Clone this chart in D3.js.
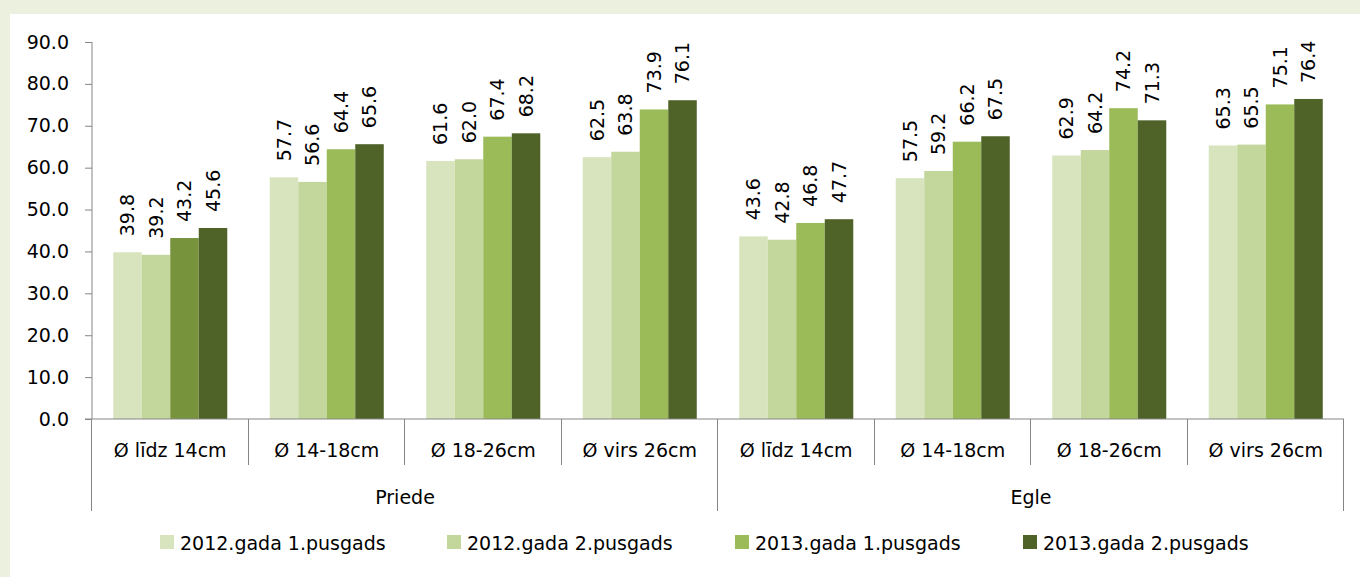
<!DOCTYPE html>
<html>
<head>
<meta charset="utf-8">
<script src="https://cdn.jsdelivr.net/npm/d3@7"></script>
<style>
  html, body { margin: 0; padding: 0; background: #EBF1DE; }
  svg { display: block; }
  text { font-family: "DejaVu Sans", sans-serif; fill: #000; }
</style>
</head>
<body>
<svg id="chart" width="1360" height="577"></svg>
<script>
// ---- data ----
const groups = ["Priede", "Egle"];
const sizes = ["Ø līdz 14cm", "Ø 14-18cm", "Ø 18-26cm", "Ø virs 26cm"];
const seriesNames = ["2012.gada 1.pusgads", "2012.gada 2.pusgads", "2013.gada 1.pusgads", "2013.gada 2.pusgads"];
const s2012h1 = [39.8, 57.7, 61.6, 62.5, 43.6, 57.5, 62.9, 65.3];
const s2012h2 = [39.2, 56.6, 62.0, 63.8, 42.8, 59.2, 64.2, 65.5];
const s2013h1 = [43.2, 64.4, 67.4, 73.9, 46.8, 66.2, 74.2, 75.1];
const s2013h2 = [45.6, 65.6, 68.2, 76.1, 47.7, 67.5, 71.3, 76.4];
const yTicks = [0, 10, 20, 30, 40, 50, 60, 70, 80, 90];

const seriesValues = [s2012h1, s2012h2, s2013h1, s2013h2];
const colors = ["#D7E4BD", "#C3D69B", "#9BBB59", "#4F6228"];
const overrideColor = "#77933C"; // first Priede point of 2013 1st half

const categories = [];
groups.forEach(g => sizes.forEach(s => categories.push(g + "|" + s)));

const svg = d3.select("#chart");
svg.append("rect").attr("x", 10).attr("y", 14).attr("width", 1350).attr("height", 563).attr("fill", "#fff");

const axisColor = "#868686";
const x0 = d3.scaleBand().domain(categories).range([92, 1344]).paddingInner(0).paddingOuter(0);
const x1 = d3.scaleBand().domain(d3.range(4)).range([0, x0.bandwidth()]).paddingInner(0).paddingOuter(0.745);
const y = d3.scaleLinear().domain([0, 90]).range([419, 42]);

// y axis
const yAxis = svg.append("g").attr("transform", "translate(92,0)")
  .call(d3.axisLeft(y).tickValues(yTicks).tickFormat(d3.format(".1f")).tickSize(7).tickPadding(16));
yAxis.select(".domain").attr("stroke", axisColor).attr("d", "M0," + y(90) + "V" + y(0));
yAxis.selectAll(".tick line").attr("stroke", axisColor);
yAxis.selectAll(".tick text").style("font-size", "19px").style("font-family", "DejaVu Sans");

// bars
const barData = [];
categories.forEach((c, ci) => {
  seriesValues.forEach((vals, si) => {
    barData.push({c, ci, si, v: vals[ci]});
  });
});
svg.append("g").selectAll("rect").data(barData).join("rect")
  .attr("x", d => x0(d.c) + x1(d.si))
  .attr("width", x1.bandwidth())
  .attr("y", d => y(d.v))
  .attr("height", d => y(0) - y(d.v))
  .attr("fill", d => (d.si === 2 && d.ci === 0) ? overrideColor : colors[d.si]);

// data labels
svg.append("g").selectAll("text").data(barData).join("text")
  .attr("transform", d => `translate(${x0(d.c) + x1(d.si) + x1.bandwidth() / 2},${y(d.v) - 16}) rotate(-90)`)
  .attr("dy", "0.36em")
  .attr("text-anchor", "start")
  .style("font-size", "19px")
  .text(d => d3.format(".1f")(d.v));

// x axis line
const xa = svg.append("g");
xa.append("line").attr("x1", 85).attr("x2", 1344).attr("y1", y(0)).attr("y2", y(0)).attr("stroke", axisColor);
// category boundaries
categories.forEach((c, ci) => {
  const xe = Math.round(x0(c) + x0.bandwidth()) - 0.5;
  const isGroupEnd = (ci % 4 === 3);
  xa.append("line").attr("x1", xe).attr("x2", xe).attr("y1", y(0)).attr("y2", isGroupEnd ? 511 : 465).attr("stroke", axisColor);
});
xa.append("line").attr("x1", 91.5).attr("x2", 91.5).attr("y1", y(0)).attr("y2", 511).attr("stroke", axisColor);

// category labels
xa.selectAll("text.cat").data(categories).join("text").attr("class", "cat")
  .attr("x", d => x0(d) + x0.bandwidth() / 2)
  .attr("y", 457)
  .attr("text-anchor", "middle")
  .style("font-size", "19px")
  .text(d => d.split("|")[1]);

// group labels
xa.selectAll("text.grp").data(groups).join("text").attr("class", "grp")
  .attr("x", (g, gi) => (x0(categories[gi * 4]) + x0(categories[gi * 4 + 3]) + x0.bandwidth()) / 2)
  .attr("y", 504)
  .attr("text-anchor", "middle")
  .style("font-size", "19px")
  .text(d => d);

// legend
const legendX = [160, 447, 735, 1023];
const lg = svg.append("g");
seriesNames.forEach((n, i) => {
  lg.append("rect").attr("x", legendX[i]).attr("y", 535).attr("width", 14).attr("height", 14).attr("fill", colors[i]);
  lg.append("text").attr("x", legendX[i] + 20).attr("y", 550).style("font-size", "19px").text(n);
});
</script>
</body>
</html>
